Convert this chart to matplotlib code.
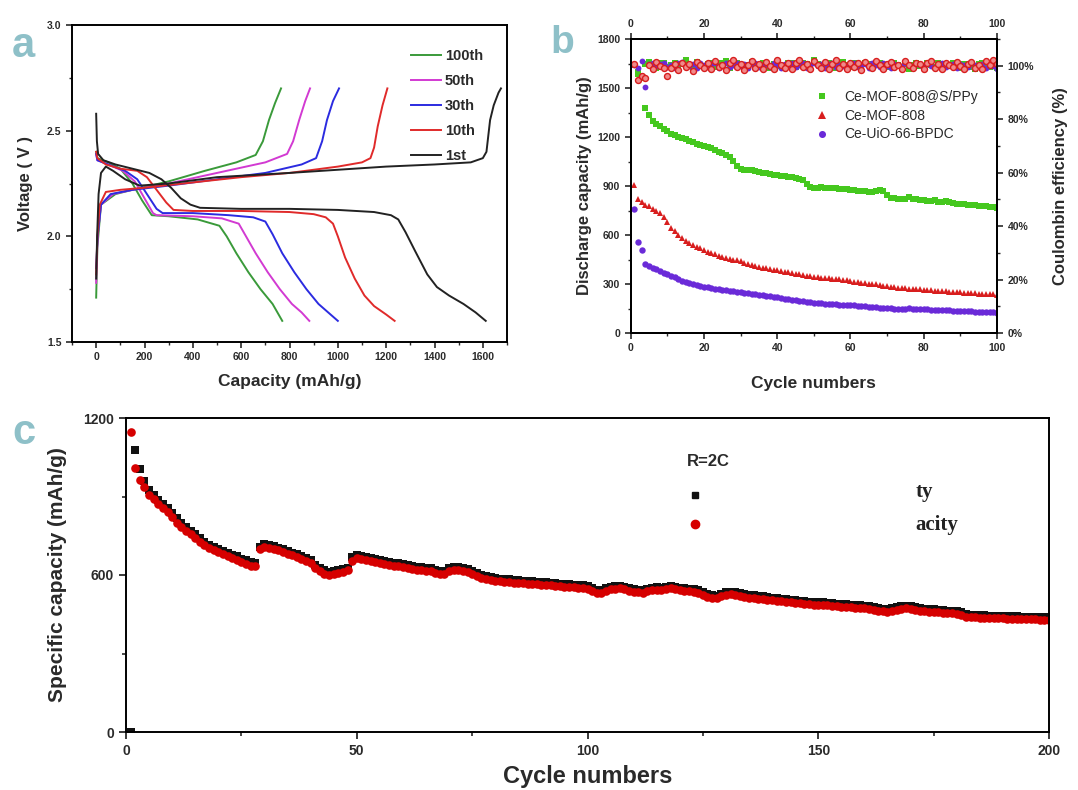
import matplotlib
matplotlib.use("Agg")
import matplotlib.pyplot as plt
from matplotlib.ticker import MultipleLocator, FuncFormatter

plt.rcParams['font.family'] = ['Liberation Sans', 'DejaVu Sans']
plt.rcParams['axes.linewidth'] = 1.4

# ---------------- (a) charge / discharge voltage profiles ----------------
profile_labels = ["100th", "50th", "30th", "10th", "1st"]
profile_colors = ["#3a9a3a", "#d23ad2", "#2b2be0", "#e02a2a", "#222222"]

dis_100 = [(0, 2.40), (5, 2.37), (50, 2.35), (100, 2.32), (150, 2.25), (190, 2.17),
           (230, 2.10), (300, 2.095), (420, 2.08), (510, 2.05), (540, 2.00), (580, 1.92),
           (630, 1.83), (680, 1.75), (730, 1.68), (770, 1.60)]
chg_100 = [(0, 1.71), (5, 1.95), (20, 2.15), (80, 2.20), (150, 2.22), (300, 2.26),
           (450, 2.31), (580, 2.35), (660, 2.385), (690, 2.45), (715, 2.55), (740, 2.63),
           (765, 2.70)]
dis_50 = [(0, 2.39), (5, 2.36), (50, 2.34), (110, 2.31), (160, 2.26), (200, 2.18),
          (235, 2.11), (250, 2.10), (400, 2.095), (520, 2.085), (590, 2.06), (620, 2.00),
          (660, 1.92), (710, 1.83), (760, 1.75), (810, 1.68), (850, 1.64), (882, 1.60)]
chg_50 = [(0, 1.78), (6, 2.0), (20, 2.15), (70, 2.20), (150, 2.22), (300, 2.25),
          (500, 2.30), (700, 2.35), (790, 2.39), (815, 2.45), (840, 2.55), (865, 2.64),
          (885, 2.70)]
dis_30 = [(0, 2.39), (5, 2.36), (50, 2.34), (120, 2.31), (170, 2.27), (210, 2.20),
          (250, 2.13), (275, 2.11), (400, 2.11), (550, 2.10), (650, 2.09), (700, 2.07),
          (730, 2.01), (770, 1.92), (820, 1.83), (870, 1.75), (920, 1.68), (960, 1.64),
          (1000, 1.60)]
chg_30 = [(0, 1.85), (6, 2.0), (20, 2.15), (60, 2.20), (150, 2.22), (300, 2.24),
          (500, 2.27), (700, 2.30), (850, 2.34), (910, 2.37), (935, 2.45), (955, 2.55),
          (980, 2.64), (1005, 2.70)]
dis_10 = [(0, 2.40), (5, 2.37), (40, 2.34), (100, 2.32), (170, 2.31), (210, 2.28),
          (250, 2.22), (290, 2.16), (320, 2.125), (400, 2.12), (600, 2.12), (800, 2.115),
          (900, 2.105), (950, 2.09), (980, 2.06), (1000, 2.00), (1030, 1.90), (1070, 1.80),
          (1110, 1.72), (1150, 1.67), (1200, 1.63), (1235, 1.60)]
chg_10 = [(0, 1.82), (5, 2.0), (15, 2.15), (40, 2.21), (100, 2.22), (200, 2.23),
          (400, 2.255), (600, 2.28), (800, 2.30), (1000, 2.33), (1100, 2.35), (1135, 2.37),
          (1150, 2.42), (1165, 2.52), (1185, 2.62), (1205, 2.70)]
dis_1 = [(0, 2.58), (3, 2.45), (8, 2.39), (30, 2.36), (80, 2.34), (150, 2.32),
         (220, 2.30), (270, 2.27), (310, 2.23), (350, 2.18), (390, 2.15), (430, 2.135),
         (600, 2.13), (800, 2.13), (1000, 2.125), (1150, 2.115), (1220, 2.10), (1250, 2.08),
         (1280, 2.02), (1320, 1.93), (1370, 1.82), (1410, 1.76), (1460, 1.72), (1520, 1.68),
         (1570, 1.64), (1612, 1.60)]
chg_1 = [(0, 1.80), (4, 2.0), (10, 2.2), (20, 2.30), (40, 2.33), (70, 2.31),
         (120, 2.27), (180, 2.24), (300, 2.25), (500, 2.28), (800, 2.30), (1000, 2.315),
         (1200, 2.33), (1400, 2.34), (1550, 2.35), (1600, 2.37), (1615, 2.40), (1630, 2.55),
         (1645, 2.62), (1665, 2.68), (1675, 2.70)]

profile_curves = [(dis_100, chg_100), (dis_50, chg_50), (dis_30, chg_30),
                  (dis_10, chg_10), (dis_1, chg_1)]

# ---------------- (b) cycling of the three cathodes at 100 cycles ----------------
cycles_b = list(range(1, 101))
cap_s_ppy = [1640, 1600, 1560, 1380, 1335, 1300, 1280, 1265, 1250, 1235,
             1220, 1210, 1200, 1192, 1185, 1175, 1168, 1160, 1152, 1145,
             1138, 1130, 1120, 1110, 1100, 1088, 1075, 1055, 1025, 1005,
             1000, 998, 995, 990, 986, 982, 978, 972, 968, 965,
             962, 960, 958, 955, 952, 945, 935, 915, 895, 885,
             890, 892, 890, 888, 886, 885, 884, 882, 880, 878,
             876, 872, 870, 868, 866, 866, 870, 878, 870, 845,
             828, 825, 822, 820, 818, 835, 822, 820, 815, 812,
             810, 808, 812, 805, 800, 808, 800, 796, 792, 790,
             788, 785, 783, 782, 780, 778, 775, 772, 770, 765]
cap_mof = [906, 818, 800, 785, 775, 762, 748, 732, 712, 680,
           640, 622, 600, 580, 565, 552, 540, 528, 518, 508,
           498, 490, 482, 474, 467, 460, 455, 450, 444, 438,
           430, 422, 415, 410, 405, 400, 396, 392, 388, 384,
           380, 376, 372, 368, 364, 360, 356, 352, 348, 344,
           340, 338, 336, 334, 332, 330, 328, 325, 322, 318,
           315, 312, 309, 306, 303, 300, 297, 293, 289, 285,
           282, 280, 278, 276, 274, 272, 270, 268, 267, 265,
           264, 262, 260, 258, 257, 255, 254, 252, 250, 249,
           247, 246, 244, 243, 241, 240, 238, 237, 236, 234]
cap_uio = [760, 555, 510, 420, 410, 400, 390, 380, 370, 360,
           350, 340, 330, 320, 312, 305, 298, 292, 288, 284,
           280, 276, 272, 268, 265, 262, 259, 256, 252, 248,
           245, 242, 240, 237, 234, 231, 228, 225, 222, 218,
           214, 210, 206, 203, 200, 197, 194, 191, 188, 185,
           183, 181, 179, 177, 176, 175, 174, 173, 172, 171,
           170, 168, 166, 164, 162, 160, 158, 156, 155, 154,
           152, 150, 149, 148, 150, 152, 150, 148, 146, 145,
           144, 143, 142, 141, 140, 139, 138, 137, 136, 135,
           134, 133, 132, 131, 130, 129, 128, 127, 126, 125]
ce_s_ppy = [100.2, 97.0, 95.5, 100.8, 101.5, 100.3, 99.2, 100.9, 101.2, 99.5,
            100.4, 101.0, 99.0, 100.6, 102.2, 100.1, 99.3, 101.4, 100.0, 99.6,
            100.8, 101.1, 99.4, 100.2, 100.9, 101.6, 99.1, 100.5, 101.0, 99.8,
            98.8, 100.4, 101.3, 99.7, 100.1, 101.0, 100.3, 99.2, 100.7, 101.5,
            100.0, 99.4, 100.9, 101.2, 99.6, 100.3, 101.0, 100.5, 99.3, 102.0,
            100.8, 99.5, 100.2, 101.1, 100.4, 99.0, 100.6, 101.3, 100.1, 99.7,
            100.9, 100.2, 99.4, 101.0, 100.5, 99.8, 100.3, 101.2, 100.0, 99.5,
            100.7, 101.0, 100.2, 99.3, 100.8, 98.6, 100.4, 101.1, 100.0, 99.6,
            100.9, 100.3, 99.5, 101.2, 100.6, 99.9, 100.2, 101.0, 100.4, 99.2,
            100.7, 100.1, 99.6, 98.9, 100.5, 101.1, 100.0, 99.4, 100.3, 99.0]
ce_mof = [100.5, 94.5, 96.0, 95.5, 100.2, 98.8, 101.5, 100.0, 99.0, 96.2,
          99.0, 100.5, 98.5, 101.2, 99.5, 100.8, 98.2, 101.5, 100.2, 99.0,
          100.9, 98.6, 101.8, 99.4, 100.2, 98.3, 101.0, 102.3, 99.6, 100.8,
          98.5, 100.1, 101.6, 99.2, 100.7, 98.9, 101.3, 100.0, 98.6, 102.0,
          100.4, 99.1, 101.0, 98.7, 100.9, 102.1, 99.4, 100.6, 98.8, 101.7,
          100.2, 99.0, 101.4, 98.6, 100.8, 102.0, 99.3, 100.5, 98.7, 101.1,
          99.6, 100.9, 98.4, 101.5, 100.0, 99.2, 101.9, 100.3, 98.9, 100.7,
          101.3, 99.5, 100.4, 98.8, 101.6, 100.1, 99.0, 101.2, 100.6, 98.7,
          100.9, 101.8, 99.3, 100.5, 98.6, 101.0, 100.2, 99.4, 101.5, 100.0,
          98.8, 100.6, 101.3, 99.1, 100.4, 98.9, 101.7, 100.3, 102.0, 100.8]
ce_uio = [100.4, 99.0, 101.8, 92.0, 100.6, 101.2, 99.8, 100.5, 101.0, 99.4,
          100.2, 99.1, 100.9, 101.3, 99.6, 100.0, 100.8, 99.3, 101.1, 100.4,
          99.7, 100.6, 101.0, 99.2, 100.3, 100.9, 99.5, 100.1, 101.2, 99.8,
          100.5, 99.0, 100.7, 101.1, 99.6, 100.2, 100.8, 99.4, 101.0, 100.3,
          99.1, 100.6, 100.0, 101.2, 99.5, 100.4, 100.9, 99.3, 100.1, 101.0,
          99.8, 100.5, 99.2, 100.7, 101.1, 99.6, 100.3, 100.0, 99.4, 100.8,
          101.0, 99.5, 100.2, 100.6, 99.1, 100.9, 100.4, 99.7, 101.2, 100.0,
          99.3, 100.6, 100.1, 99.8, 101.0, 100.4, 99.2, 100.7, 100.3, 99.6,
          100.9, 100.0, 99.4, 100.5, 101.1, 99.7, 100.2, 100.8, 99.3, 100.6,
          100.1, 99.5, 100.9, 100.3, 99.8, 100.5, 99.2, 100.7, 100.0, 98.9]

# ---------------- (c) long-term cycling at 2C ----------------
cycles_c = list(range(1, 201))
charge_c = [0, 1078, 1005, 958, 925, 906, 888, 872, 856, 838,
            818, 800, 785, 770, 755, 740, 728, 716, 707, 699,
            692, 685, 678, 671, 663, 656, 650, 647, 708, 718,
            714, 710, 704, 698, 692, 685, 679, 672, 665, 657,
            640, 628, 618, 612, 614, 618, 622, 628, 668, 676,
            672, 668, 664, 661, 657, 653, 649, 646, 646, 643,
            638, 634, 631, 629, 628, 625, 619, 614, 617, 628,
            632, 630, 627, 623, 615, 607, 601, 595, 591, 588,
            586, 585, 583, 581, 580, 578, 577, 576, 574, 573,
            572, 570, 569, 567, 566, 564, 563, 561, 560, 557,
            550, 542, 541, 549, 556, 558, 559, 556, 550, 546,
            544, 542, 548, 552, 554, 552, 555, 559, 556, 552,
            550, 548, 546, 542, 534, 526, 522, 521, 528, 534,
            536, 534, 530, 527, 524, 522, 520, 518, 516, 514,
            512, 510, 508, 506, 504, 502, 500, 498, 497, 496,
            495, 494, 492, 490, 489, 488, 486, 485, 484, 482,
            480, 478, 474, 471, 470, 472, 477, 481, 482, 480,
            476, 473, 471, 470, 469, 467, 465, 464, 463, 462,
            458, 451, 449, 448, 447, 446, 445, 445, 444, 444,
            443, 442, 442, 441, 441, 440, 440, 439, 439, 438]
discharge_c = [1145, 1010, 963, 935, 905, 890, 872, 856, 840, 822,
               800, 785, 770, 756, 740, 725, 714, 703, 695, 687,
               680, 672, 666, 658, 650, 642, 636, 634, 700, 708,
               704, 700, 694, 688, 682, 675, 668, 661, 653, 645,
               625, 615, 605, 600, 603, 607, 612, 618, 655, 664,
               660, 656, 652, 650, 646, 642, 638, 634, 635, 632,
               626, 622, 620, 618, 617, 614, 608, 602, 604, 616,
               620, 619, 616, 612, 604, 596, 590, 584, 580, 578,
               576, 575, 573, 571, 570, 569, 567, 566, 565, 563,
               562, 560, 559, 558, 556, 555, 553, 552, 550, 548,
               540, 532, 530, 538, 546, 548, 549, 546, 540, 536,
               534, 532, 538, 542, 544, 542, 545, 549, 546, 542,
               540, 538, 536, 532, 524, 516, 512, 511, 518, 524,
               526, 524, 520, 517, 514, 512, 510, 508, 506, 504,
               502, 500, 498, 496, 494, 492, 490, 488, 487, 486,
               485, 484, 482, 480, 479, 478, 476, 475, 474, 472,
               470, 468, 464, 461, 460, 462, 467, 471, 472, 470,
               466, 463, 461, 460, 459, 457, 455, 454, 453, 452,
               448, 441, 439, 438, 437, 436, 435, 435, 434, 434,
               432, 432, 431, 431, 430, 430, 430, 429, 429, 428]

LABEL_COLOR = "#2a2a2a"
PANEL_COLOR = "#8ec0c8"

fig = plt.figure(figsize=(10.78, 7.90), dpi=100)

# ---------- panel a ----------
ax_a = fig.add_axes([72 / 1078, 1 - 342 / 790, 435 / 1078, 317 / 790])
for (dis, chg), lab, col in zip(profile_curves, profile_labels, profile_colors):
    ax_a.plot([p[0] for p in dis], [p[1] for p in dis], color=col, lw=1.4, label=lab)
    ax_a.plot([p[0] for p in chg], [p[1] for p in chg], color=col, lw=1.4)
ax_a.set_xlim(-100, 1700)
ax_a.set_ylim(1.5, 3.0)
ax_a.xaxis.set_major_locator(MultipleLocator(200))
ax_a.xaxis.set_minor_locator(MultipleLocator(100))
ax_a.yaxis.set_major_locator(MultipleLocator(0.5))
ax_a.yaxis.set_minor_locator(MultipleLocator(0.25))
ax_a.tick_params(which='both', direction='out', labelsize=7.5, colors=LABEL_COLOR)
ax_a.tick_params(which='major', length=4, width=1.2)
ax_a.tick_params(which='minor', length=2.5, width=1.0)
for t in ax_a.get_xticklabels() + ax_a.get_yticklabels():
    t.set_fontweight('bold')
ax_a.set_xlabel("Capacity (mAh/g)", fontsize=12.5, fontweight='bold', color=LABEL_COLOR, labelpad=8)
ax_a.set_ylabel("Voltage ( V )", fontsize=12, fontweight='bold', color=LABEL_COLOR, labelpad=10)
leg_a = ax_a.legend(loc='upper right', bbox_to_anchor=(0.975, 0.965), frameon=False,
                    handlelength=2.0, handletextpad=0.3, labelspacing=0.75,
                    prop={'weight': 'bold', 'size': 10.5})
for txt in leg_a.get_texts():
    txt.set_color(LABEL_COLOR)

# ---------- panel b ----------
ax_b = fig.add_axes([630.7 / 1078, 1 - 333 / 790, 366.3 / 1078, 294 / 790])
ax_b.plot(cycles_b, cap_s_ppy, 's', color="#45c81e", ms=4.2, mew=0, label="Ce-MOF-808@S/PPy")
ax_b.plot(cycles_b, cap_mof, '^', color="#d81e1e", ms=4.6, mew=0, label="Ce-MOF-808")
ax_b.plot(cycles_b, cap_uio, 'o', color="#6a2ad8", ms=4.6, mew=0, label="Ce-UiO-66-BPDC")
ax_b.set_xlim(0, 100)
ax_b.set_ylim(0, 1800)
ax_b.xaxis.set_major_locator(MultipleLocator(20))
ax_b.xaxis.set_minor_locator(MultipleLocator(10))
ax_b.yaxis.set_major_locator(MultipleLocator(300))
ax_b.yaxis.set_minor_locator(MultipleLocator(150))
ax_b.tick_params(which='both', direction='out', labelsize=7.5, colors=LABEL_COLOR,
                 top=True, labeltop=True)
ax_b.tick_params(which='major', length=4, width=1.2)
ax_b.tick_params(which='minor', length=2.5, width=1.0)
for t in ax_b.get_xticklabels() + ax_b.get_yticklabels():
    t.set_fontweight('bold')
ax_b.set_xlabel("Cycle numbers", fontsize=12.5, fontweight='bold', color=LABEL_COLOR, labelpad=16)
ax_b.set_ylabel("Discharge capacity (mAh/g)", fontsize=12, fontweight='bold', color=LABEL_COLOR,
                labelpad=4)
leg_b = ax_b.legend(loc='upper left', bbox_to_anchor=(0.45, 0.87), frameon=False,
                    handletextpad=0.6, labelspacing=0.35, markerscale=1.1,
                    prop={'size': 10})
for txt in leg_b.get_texts():
    txt.set_color(LABEL_COLOR)

ax_ce = ax_b.twinx()
ax_ce.plot(cycles_b, ce_s_ppy, 's', color="#45c81e", ms=3.8, mew=0)
ax_ce.plot(cycles_b, ce_uio, 'o', color="#6a2ad8", ms=4.2, mew=0)
ax_ce.plot(cycles_b, ce_mof, 'o', mfc="#f08a8a", mec="#d81e1e", ms=4.3, mew=1.0)
ax_ce.set_ylim(0, 110)
ax_ce.yaxis.set_major_locator(MultipleLocator(20))
ax_ce.yaxis.set_minor_locator(MultipleLocator(10))
ax_ce.yaxis.set_major_formatter(FuncFormatter(lambda v, p: f"{int(v)}%"))
ax_ce.tick_params(which='both', direction='out', labelsize=7.5, colors=LABEL_COLOR)
ax_ce.tick_params(which='major', length=4, width=1.2)
ax_ce.tick_params(which='minor', length=2.5, width=1.0)
for t in ax_ce.get_yticklabels():
    t.set_fontweight('bold')
ax_ce.set_ylabel("Coulombin efficiency (%)", fontsize=12, fontweight='bold', color=LABEL_COLOR,
                 labelpad=14)

# ---------- panel c ----------
ax_c = fig.add_axes([126 / 1078, 58 / 790, 923 / 1078, 314 / 790])
ax_c.plot(cycles_c, charge_c, 's', color="#111111", ms=5.2, mew=0)
ax_c.plot(cycles_c, discharge_c, 'o', color="#d60000", ms=6.2, mew=0)
ax_c.set_xlim(0, 200)
ax_c.set_ylim(0, 1200)
ax_c.xaxis.set_major_locator(MultipleLocator(50))
ax_c.xaxis.set_minor_locator(MultipleLocator(25))
ax_c.yaxis.set_major_locator(MultipleLocator(600))
ax_c.yaxis.set_minor_locator(MultipleLocator(300))
ax_c.tick_params(which='both', direction='out', labelsize=10, colors=LABEL_COLOR)
ax_c.tick_params(which='major', length=5, width=1.3)
ax_c.tick_params(which='minor', length=3, width=1.2)
for t in ax_c.get_xticklabels() + ax_c.get_yticklabels():
    t.set_fontweight('bold')
ax_c.set_xlabel("Cycle numbers", fontsize=17, fontweight='bold', color=LABEL_COLOR, labelpad=5)
ax_c.set_ylabel("Specific capacity (mAh/g)", fontsize=15, fontweight='bold', color=LABEL_COLOR,
                family=['Liberation Sans Narrow', 'Liberation Sans', 'DejaVu Sans'], labelpad=12)

ax_c.text(0.608, 0.86, "R=2C", transform=ax_c.transAxes, fontsize=12, fontweight='bold',
          color=LABEL_COLOR, va='center')
ax_c.plot([0.616], [0.755], 's', color="#111111", ms=5, transform=ax_c.transAxes)
ax_c.plot([0.616], [0.662], 'o', color="#d60000", ms=6, transform=ax_c.transAxes)
ax_c.text(0.855, 0.764, "ty", transform=ax_c.transAxes, fontsize=15, fontweight='bold',
          family=['Liberation Serif', 'DejaVu Serif'], color="#222222", va='center')
ax_c.text(0.855, 0.659, "acity", transform=ax_c.transAxes, fontsize=15, fontweight='bold',
          family=['Liberation Serif', 'DejaVu Serif'], color="#222222", va='center')

# panel letters
fig.text(12 / 1078, 1 - 57 / 790, "a", fontsize=30, color=PANEL_COLOR, fontweight='bold')
fig.text(550 / 1078, 1 - 53 / 790, "b", fontsize=28, color=PANEL_COLOR, fontweight='bold')
fig.text(12 / 1078, 1 - 444 / 790, "c", fontsize=30, color=PANEL_COLOR, fontweight='bold')

fig.savefig("out.png", dpi=100, facecolor="white")
